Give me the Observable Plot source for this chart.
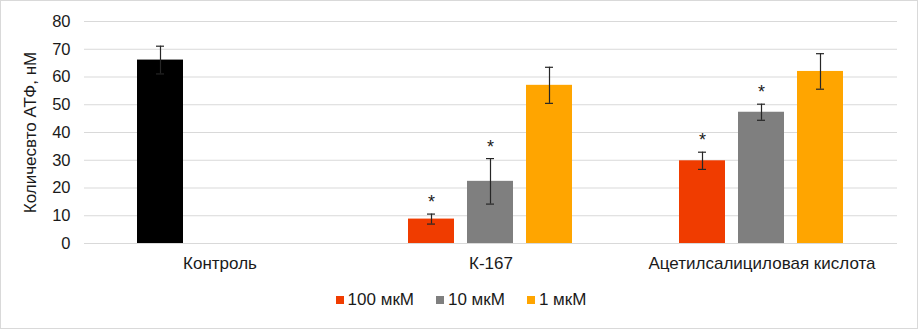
<!DOCTYPE html>
<html><head><meta charset="utf-8">
<script src="https://cdn.jsdelivr.net/npm/d3@7"></script>
<script src="https://cdn.jsdelivr.net/npm/@observablehq/plot@0.6"></script>
<style>
body{margin:0;background:#fff;}
#frame{width:918px;height:329px;box-sizing:border-box;border:1px solid #d9d9d9;position:relative;overflow:hidden;font-family:"Liberation Sans",Arial,sans-serif;}
#chart svg{display:block;}
#chart svg text{font-family:"Liberation Sans",Arial,sans-serif !important;}
#chart svg g[aria-label="y-axis tick label"] text{font-size:16.5px !important;}
#chart svg g[aria-label="y-axis label"] text{font-size:17px !important;}
#chart svg g[aria-label="fx-axis tick label"] text{font-size:17px !important;}
#chart svg g[aria-label="text"] text{font-size:18px !important;}
#legend{display:flex;justify-content:center;gap:22px;font-size:17px;color:#1a1a1a;margin-top:9px;margin-left:4px;}
#legend span.item{display:flex;align-items:center;}
#legend span.sw{display:inline-block;width:8px;height:8px;margin-right:4px;}
</style></head>
<body>
<div id="frame"><div id="chart"></div><div id="legend"></div></div>
<script>
const categories = ["Контроль", "К-167", "Ацетилсалициловая кислота"];
const series = ["100 мкМ", "10 мкМ", "1 мкМ"];
const seriesColors = ["#f03c00", "#7f7f7f", "#ffa500"];
const controlColor = "#000000";
const yTicks = [0, 10, 20, 30, 40, 50, 60, 70, 80];

const controlValue = 66.1;
const controlError = 5.0;
const k167Values = [8.8, 22.4, 57.0];
const k167Errors = [1.8, 8.2, 6.5];
const k167Significant = [true, true, false];
const asaValues = [29.8, 47.3, 62.0];
const asaErrors = [3.1, 2.9, 6.4];
const asaSignificant = [true, true, false];

const rows = [
  {group: categories[0], series: series[0], value: controlValue, err: controlError, sig: false, color: controlColor},
  ...series.map((s, i) => ({group: categories[1], series: s, value: k167Values[i], err: k167Errors[i], sig: k167Significant[i], color: seriesColors[i]})),
  ...series.map((s, i) => ({group: categories[2], series: s, value: asaValues[i], err: asaErrors[i], sig: asaSignificant[i], color: seriesColors[i]}))
];

const chart = Plot.plot({
  width: 916,
  height: 280,
  marginLeft: 83,
  marginRight: 20,
  marginTop: 20,
  marginBottom: 38,
  style: {fontSize: "15px", color: "#1a1a1a", background: "#fff"},
  fx: {domain: categories, padding: 0, label: null},
  x: {domain: series, paddingInner: 0.22, paddingOuter: 0.875, axis: null},
  y: {domain: [0, 80], ticks: yTicks},
  marks: [
    Plot.gridY(yTicks, {stroke: "#d9d9d9", strokeOpacity: 1}),
    Plot.axisY(yTicks, {tickSize: 0, tickPadding: 14, label: "Количесвто АТФ, нМ", labelAnchor: "center", labelArrow: "none", labelOffset: 61}),
    Plot.axisFx({anchor: "bottom", tickSize: 0, tickPadding: 13, label: null}),
    Plot.barY(rows, {fx: "group", x: "series", y: "value", fill: "color"}),
    Plot.ruleX(rows, {fx: "group", x: "series", y1: d => d.value - d.err, y2: d => d.value + d.err, stroke: "#262626", strokeWidth: 1.2}),
    Plot.tickY(rows, {fx: "group", x: "series", y: d => d.value + d.err, stroke: "#262626", strokeWidth: 1.2, insetLeft: 19, insetRight: 19}),
    Plot.tickY(rows, {fx: "group", x: "series", y: d => d.value - d.err, stroke: "#262626", strokeWidth: 1.2, insetLeft: 19, insetRight: 19}),
    Plot.text(rows.filter(d => d.sig), {fx: "group", x: "series", y: d => d.value + d.err, text: () => "*", dy: -6, lineAnchor: "bottom", fill: "#1a1a1a"})
  ]
});
document.getElementById("chart").appendChild(chart);

const legend = document.getElementById("legend");
series.forEach((s, i) => {
  const item = document.createElement("span");
  item.className = "item";
  const sw = document.createElement("span");
  sw.className = "sw";
  sw.style.background = seriesColors[i];
  item.appendChild(sw);
  item.appendChild(document.createTextNode(s));
  legend.appendChild(item);
});
</script>
</body></html>
